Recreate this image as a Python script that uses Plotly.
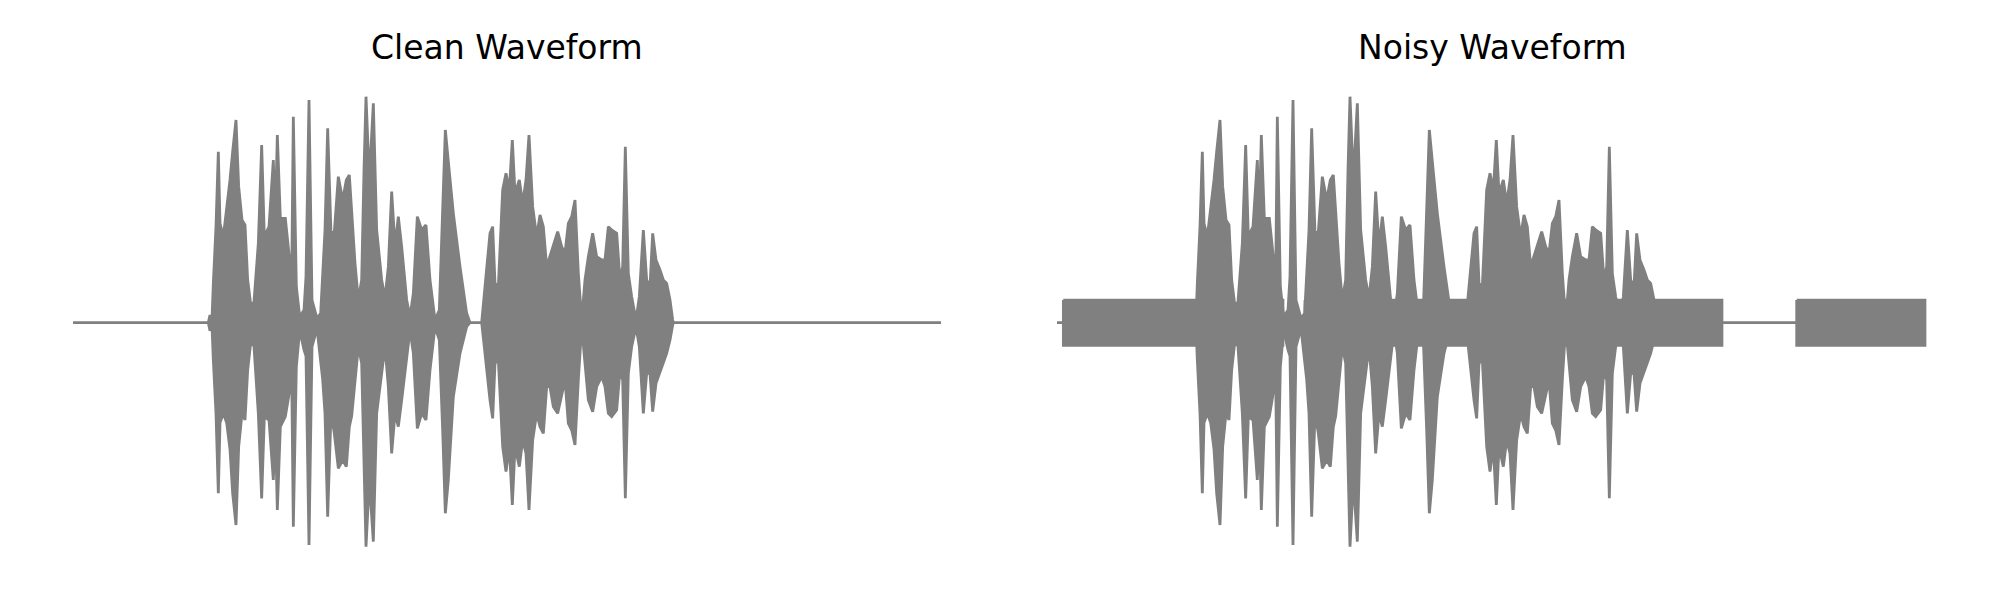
import plotly.graph_objects as go

# ---- data (time in ms, amplitude normalised) ----
clean_time = [0, 406, 411, 417, 421, 429, 436, 441, 451, 461, 471, 479, 489, 497, 507, 516, 524, 534, 543, 556,
              566, 574, 588, 601, 607, 613, 622, 637, 647, 656, 661, 670, 680, 693, 699, 708, 717, 732, 743, 749,
              756, 764, 774, 784, 796, 809, 820, 829, 836, 846, 856, 866, 873, 879, 889, 901, 911, 926, 936, 946,
              956, 966, 976, 986, 1001, 1011, 1021, 1033, 1046, 1059, 1071, 1086, 1099, 1109, 1117, 1126, 1141,
              1161, 1181, 1191, 1226, 1236, 1251, 1259, 1266, 1276, 1289, 1299, 1309, 1318, 1326, 1339, 1349,
              1359, 1368, 1379, 1391, 1401, 1411, 1421, 1431, 1441, 1454, 1466, 1476, 1486, 1496, 1506, 1516,
              1526, 1536, 1546, 1559, 1571, 1586, 1596, 1606, 1616, 1631, 1641, 1649, 1657, 1666, 1676, 1689,
              1699, 1711, 1721, 1731, 1739, 1749, 1761, 1771, 1781, 1791, 1799, 1801, 2604]
clean_upper = [0, 0, 0.023, 0.01, 0.118, 0.288, 0.513, 0.298, 0.258, 0.338, 0.428, 0.513, 0.608, 0.408, 0.308,
               0.293, 0.128, 0.048, 0.063, 0.238, 0.533, 0.258, 0.288, 0.488, 0.308, 0.563, 0.313, 0.313, 0.208,
               0.128, 0.618, 0.108, 0.018, 0.038, 0.138, 0.668, 0.068, 0.013, 0.028, 0.138, 0.278, 0.583, 0.268,
               0.273, 0.438, 0.368, 0.428, 0.443, 0.328, 0.178, 0.068, 0.128, 0.458, 0.678, 0.428, 0.658, 0.278,
               0.128, 0.073, 0.168, 0.393, 0.228, 0.318, 0.228, 0.068, 0.018, 0.088, 0.318, 0.278, 0.293, 0.128,
               0.008, 0.038, 0.308, 0.578, 0.483, 0.328, 0.168, 0.028, 0, 0, 0.108, 0.268, 0.288, 0.118, 0.108,
               0.398, 0.448, 0.398, 0.548, 0.388, 0.428, 0.358, 0.428, 0.563, 0.348, 0.258, 0.323, 0.288, 0.168,
               0.198, 0.228, 0.273, 0.228, 0.208, 0.298, 0.318, 0.368, 0.148, 0.008, 0.128, 0.198, 0.268, 0.198,
               0.188, 0.188, 0.288, 0.278, 0.268, 0.128, 0.168, 0.528, 0.148, 0.078, 0.008, 0.078, 0.278, 0.128,
               0.108, 0.268, 0.188, 0.158, 0.128, 0.118, 0.068, 0.008, 0, 0]
clean_lower = [0, 0, -0.024, -0.01, -0.112, -0.272, -0.512, -0.300, -0.272, -0.300, -0.380, -0.512, -0.607,
               -0.372, -0.272, -0.292, -0.142, -0.052, -0.072, -0.272, -0.527, -0.282, -0.292, -0.472, -0.302,
               -0.562, -0.312, -0.282, -0.222, -0.152, -0.612, -0.132, -0.022, -0.082, -0.100, -0.667, -0.072,
               -0.017, -0.120, -0.170, -0.272, -0.582, -0.272, -0.332, -0.437, -0.412, -0.432, -0.312, -0.280,
               -0.172, -0.072, -0.122, -0.422, -0.672, -0.472, -0.657, -0.272, -0.152, -0.072, -0.192, -0.392,
               -0.272, -0.312, -0.232, -0.112, -0.022, -0.092, -0.317, -0.272, -0.292, -0.142, -0.012, -0.052,
               -0.322, -0.572, -0.472, -0.222, -0.092, -0.012, 0, 0, -0.092, -0.232, -0.287, -0.122, -0.112,
               -0.372, -0.447, -0.372, -0.547, -0.372, -0.432, -0.352, -0.392, -0.562, -0.352, -0.272, -0.312,
               -0.332, -0.192, -0.192, -0.252, -0.272, -0.222, -0.172, -0.302, -0.322, -0.367, -0.172, -0.012,
               -0.122, -0.232, -0.267, -0.192, -0.162, -0.192, -0.272, -0.282, -0.262, -0.142, -0.172, -0.527,
               -0.152, -0.072, -0.012, -0.072, -0.272, -0.152, -0.152, -0.267, -0.182, -0.152, -0.122, -0.092,
               -0.052, -0.007, 0, 0]

# noise added in the noisy version: segments (start ms, end ms, amplitude)
noise_start = [19, 519, 549, 744, 2219]
noise_end = [519, 549, 678, 1995, 2604]
noise_amp = [0.068, 0.050, 0.068, 0.068, 0.068]

titles = ["Clean Waveform", "Noisy Waveform"]
GRAY = "#808080"

fig = go.Figure()


def add_wave(xa, ya):
    xs = clean_time + clean_time[::-1]
    ys = clean_upper + clean_lower[::-1]
    fig.add_trace(go.Scatter(x=xs, y=ys, mode="lines", fill="toself", fillcolor=GRAY,
                             line=dict(color=GRAY, width=2.8), xaxis=xa, yaxis=ya,
                             hoverinfo="skip", showlegend=False))


add_wave("x", "y")
# noisy panel: noise bands + speech
for s, e, a in zip(noise_start, noise_end, noise_amp):
    fig.add_trace(go.Scatter(x=[s, e, e, s, s], y=[a, a, -a, -a, a], mode="lines", fill="toself",
                             fillcolor=GRAY, line=dict(color=GRAY, width=2.7), xaxis="x2", yaxis="y2",
                             hoverinfo="skip", showlegend=False))
add_wave("x2", "y2")

ax_common = dict(visible=False, showgrid=False, zeroline=False, showticklabels=False)
fig.update_layout(
    width=2000, height=600,
    margin=dict(l=0, r=0, t=0, b=0),
    paper_bgcolor="white", plot_bgcolor="white",
    xaxis=dict(domain=[0, 0.5], range=[-219, 2781], **ax_common),
    xaxis2=dict(domain=[0.5, 1], range=[-171, 2829], **ax_common),
    yaxis=dict(domain=[0, 1], range=[-0.832, 0.968], **ax_common),
    yaxis2=dict(domain=[0, 1], range=[-0.832, 0.968], anchor="x2", **ax_common),
    showlegend=False,
)

for xpos, txt in zip([507 / 2000, 1492 / 2000], titles):
    fig.add_annotation(text=txt, xref="paper", yref="paper", x=xpos, y=1 - 47 / 600,
                       xanchor="center", yanchor="middle", showarrow=False,
                       font=dict(family="DejaVu Sans", size=33, color="black"))

fig.write_html("out.html", config={"displayModeBar": False},
               post_script="document.body.style.margin='0';document.body.style.overflow='hidden';")
